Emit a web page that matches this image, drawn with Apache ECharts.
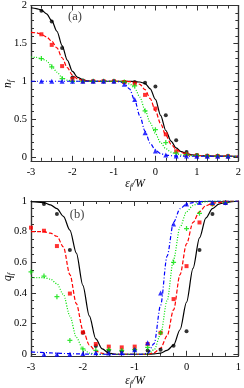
<!DOCTYPE html>
<html>
<head>
<meta charset="utf-8">
<script src="https://cdn.jsdelivr.net/npm/echarts@6/dist/echarts.min.js"></script>
<style>html,body{margin:0;padding:0;background:#fff}#c{width:244px;height:388px}</style>
</head>
<body>
<div id="c"></div>
<script>
// ---------- Panel (a): n_f ----------
const curveXA = [-3,-2.875,-2.75,-2.625,-2.5,-2.375,-2.25,-2.125,-2,-1.875,-1.75,-1.625,-1.5,-1.375,-1.25,-1.125,-1,-0.875,-0.75,-0.625,-0.5,-0.375,-0.25,-0.125,0,0.125,0.25,0.375,0.5,0.625,0.75,0.875,1,1.125,1.25,1.375,1.5,1.625,1.75,1.875,2];
const curveBlackA = [1.97,1.96,1.94,1.89,1.80,1.66,1.47,1.28,1.13,1.05,1.02,1.005,1.0,1.0,1.0,1.0,1.0,1.0,1.0,1.0,0.995,0.99,0.97,0.90,0.76,0.55,0.35,0.21,0.12,0.07,0.045,0.03,0.022,0.018,0.015,0.013,0.012,0.011,0.01,0.01,0.01];
const curveRedA   = [1.645,1.64,1.62,1.585,1.53,1.44,1.31,1.18,1.08,1.03,1.01,1.0,1.0,1.0,1.0,1.0,1.0,1.0,1.0,0.995,0.985,0.96,0.89,0.77,0.61,0.44,0.29,0.17,0.10,0.06,0.035,0.025,0.02,0.017,0.015,0.013,0.012,0.011,0.01,0.01,0.01];
const curveGreenA = [1.32,1.315,1.30,1.27,1.20,1.12,1.05,1.015,1.0,1.0,1.0,1.0,1.0,1.0,1.0,1.0,1.0,1.0,0.99,0.965,0.91,0.79,0.62,0.45,0.31,0.19,0.11,0.065,0.04,0.028,0.022,0.018,0.016,0.014,0.013,0.012,0.011,0.01,0.01,0.01,0.01];
const curveBlueA  = [1.0,1.0,1.0,1.0,1.0,1.0,1.0,1.0,1.0,1.0,1.0,1.0,1.0,1.0,1.0,1.0,1.0,0.995,0.97,0.90,0.75,0.54,0.34,0.18,0.09,0.045,0.025,0.017,0.013,0.012,0.011,0.01,0.01,0.01,0.01,0.01,0.01,0.01,0.01,0.01,0.01];

const ptXA = [-2.75,-2.5,-2.25,-2,-1.75,-1.5,-1.25,-1,-0.75,-0.5,-0.25,0,0.25,0.5,0.75,1,1.25,1.5,1.75];
const ptBlackA = [1.93,1.79,1.44,1.05,1.01,1.0,1.0,1.0,0.99,0.99,0.98,0.93,0.55,0.22,0.066,0.025,0.015,0.012,0.01];
const ptRedA   = [1.62,1.48,1.20,1.03,1.0,1.0,1.0,1.0,0.99,0.97,0.82,0.64,0.30,0.075,0.035,0.02,0.015,0.012,0.01];
const ptGreenA = [1.30,1.19,1.035,1.0,1.0,1.0,1.0,1.0,0.99,0.94,0.61,0.36,0.19,0.05,0.03,0.02,0.015,0.012,0.01];
const ptBlueA  = [1.0,1.0,1.0,1.0,1.0,1.0,1.0,1.0,0.96,0.76,0.32,0.08,0.025,0.015,0.012,0.01,0.01,0.01,0.01];

const yMajorA = [0,0.5,1,1.5,2];
const yMinorA = [0.1,0.2,0.3,0.4,0.6,0.7,0.8,0.9,1.1,1.2,1.3,1.4,1.6,1.7,1.8,1.9];

// ---------- Panel (b): q_f ----------
const curveXB = [-3,-2.875,-2.75,-2.625,-2.5,-2.375,-2.25,-2.125,-2,-1.875,-1.75,-1.625,-1.5,-1.375,-1.25,-1.125,-1,-0.875,-0.75,-0.625,-0.5,-0.375,-0.25,-0.125,0,0.125,0.25,0.375,0.5,0.625,0.75,0.875,1];
const curveBlackB = [0.995,0.993,0.99,0.975,0.95,0.90,0.81,0.66,0.45,0.25,0.10,0.035,0.008,0.0,0.0,0.0,0.0,0.0,0.0,0.002,0.008,0.025,0.06,0.16,0.34,0.56,0.76,0.89,0.95,0.98,0.99,0.995,1.0];
const curveRedB   = [0.80,0.80,0.80,0.79,0.77,0.70,0.52,0.33,0.16,0.06,0.02,0.006,0.0,0.0,0.0,0.0,0.0,0.0,0.0,0.01,0.04,0.12,0.29,0.52,0.72,0.86,0.93,0.97,0.985,0.99,0.995,1.0,1.0];
const curveGreenB = [0.50,0.50,0.50,0.49,0.46,0.39,0.25,0.11,0.035,0.008,0.0,0.0,0.0,0.0,0.0,0.0,0.0,0.0,0.0,0.03,0.13,0.35,0.62,0.83,0.93,0.97,0.99,0.995,1.0,1.0,1.0,1.0,1.0];
const curveBlueB  = [0.015,0.013,0.011,0.009,0.007,0.005,0.004,0.003,0.002,0.001,0.0,0.0,0.0,0.0,0.0,0.0,0.0,0.0,0.005,0.07,0.32,0.64,0.86,0.95,0.98,0.99,0.995,1.0,1.0,1.0,1.0,1.0,1.0];

const ptXB = [-3,-2.75,-2.5,-2.25,-2,-1.75,-1.5,-1.25,-1,-0.75,-0.5,-0.25,0,0.25,0.5,0.75];
const ptBlackB = [null,0.98,0.915,0.68,0.14,0.054,0.024,0.02,0.03,0.025,0.03,0.055,0.15,0.68,0.915,0.985];
const ptRedB   = [0.826,0.806,0.706,0.396,0.143,0.067,0.05,0.045,0.05,0.067,0.14,0.36,0.575,0.86,0.98,0.99];
const ptGreenB = [0.537,0.51,0.376,0.09,0.035,0.025,0.03,0.025,0.03,0.045,0.14,0.60,0.82,0.92,0.98,0.99];
const ptBlueB  = [null,0.0,0.0,0.0,0.005,0.01,0.008,0.01,0.03,0.075,0.40,0.85,0.98,0.99,0.99,0.99];

const yMajorB = [0,0.2,0.4,0.6,0.8,1];
const yMinorB = [0.05,0.1,0.15,0.25,0.3,0.35,0.45,0.5,0.55,0.65,0.7,0.75,0.85,0.9,0.95];

// ---------- build ----------
const FONT = 'Liberation Serif';
const AX = '#333';
const zip = (xs, ys) => xs.map((x, i) => [x, ys[i]]).filter(p => p[1] !== null);

function xAxes(grid, min, max) {
  const base = {
    type: 'value', gridIndex: grid, min: min, max: max, interval: 1,
    axisLine: { show: true, onZero: false, lineStyle: { color: AX, width: 1.2 } },
    axisTick: { show: true, inside: true, length: 5, lineStyle: { color: AX } },
    minorTick: { show: true, splitNumber: 4, length: 3, lineStyle: { color: AX } },
    splitLine: { show: false }
  };
  return [
    Object.assign({}, base, { position: 'bottom',
      axisLabel: { show: true, margin: 6, color: '#000', fontFamily: FONT, fontSize: 10.5,
        formatter: v => String(v) } }),
    Object.assign({}, base, { position: 'top', axisLabel: { show: false } })
  ];
}
function yAxes(grid, min, max, majors, minors) {
  const line = { show: true, onZero: false, lineStyle: { color: AX, width: 1.2 } };
  const mk = (pos, vals, len, lab) => ({
    type: 'value', gridIndex: grid, position: pos, min: min, max: max,
    axisLine: line, splitLine: { show: false },
    axisTick: { show: true, inside: true, length: len, customValues: vals, lineStyle: { color: AX } },
    axisLabel: lab ? { show: true, margin: 4, color: '#000', fontFamily: FONT, fontSize: 10.5,
      customValues: majors, formatter: v => String(+v.toFixed(2)) } : { show: false }
  });
  return [mk('left', majors, 5, true), mk('left', minors, 3, false),
          mk('right', majors, 5, false), mk('right', minors, 3, false)];
}

const styles = [
  { color: '#000000', type: 'solid', sym: 'circle', size: 4 },
  { color: '#ff0000', type: [4, 2], sym: 'rect', size: 4 },
  { color: '#00e000', type: [1, 1.6], sym: 'path://M3,0H5V3H8V5H5V8H3V5H0V3H3Z', size: 5 },
  { color: '#0000ff', type: [4, 2, 1, 2], sym: 'triangle', size: 5 }
];

function panelSeries(xi, yi, cx, curves, px, pts) {
  const s = [];
  curves.forEach((c, i) => s.push({
    type: 'line', xAxisIndex: xi, yAxisIndex: yi, data: zip(cx, c), showSymbol: false,
    smooth: 0.3, smoothMonotone: 'x', silent: true, z: 2,
    lineStyle: { color: styles[i].color, width: 1.2, type: styles[i].type }
  }));
  pts.forEach((p, i) => s.push({
    type: 'scatter', xAxisIndex: xi, yAxisIndex: yi, data: zip(px, p),
    symbol: styles[i].sym, symbolSize: styles[i].size, z: 3,
    itemStyle: { color: styles[i].color }
  }));
  return s;
}

const richI = { fontFamily: FONT, fontStyle: 'italic', fontSize: 11.5, fill: '#000' };
const richS = { fontFamily: FONT, fontStyle: 'italic', fontSize: 8, fill: '#000', padding: [5, 0, 0, 0] };

const chart = echarts.init(document.getElementById('c'), null, { renderer: 'canvas' });
chart.setOption({
  animation: false,
  backgroundColor: '#fff',
  grid: [
    { left: 31, top: 5, width: 207.5, height: 155.8 },
    { left: 31, top: 201, width: 207.5, height: 154.8 }
  ],
  xAxis: [].concat(xAxes(0, -3, 2), xAxes(1, -3, 1)),
  yAxis: [].concat(yAxes(0, -0.05, 2, yMajorA, yMinorA), yAxes(1, -0.01, 1, yMajorB, yMinorB)),
  series: [].concat(
    panelSeries(0, 0, curveXA, [curveBlackA, curveRedA, curveGreenA, curveBlueA], ptXA, [ptBlackA, ptRedA, ptGreenA, ptBlueA]),
    panelSeries(2, 4, curveXB, [curveBlackB, curveRedB, curveGreenB, curveBlueB], ptXB, [ptBlackB, ptRedB, ptGreenB, ptBlueB])
  ),
  graphic: [
    { type: 'text', x: 75, y: 17, style: { text: '(a)', align: 'center', verticalAlign: 'middle', font: '12.5px "Liberation Serif"', fill: '#444' } },
    { type: 'text', x: 77, y: 215, style: { text: '(b)', align: 'center', verticalAlign: 'middle', font: '12.5px "Liberation Serif"', fill: '#444' } },
    { type: 'text', x: 135, y: 184, style: { text: '{i|ε}{s|f}{i|/W}', align: 'center', verticalAlign: 'middle', rich: { i: richI, s: richS } } },
    { type: 'text', x: 135, y: 381, style: { text: '{i|ε}{s|f}{i|/W}', align: 'center', verticalAlign: 'middle', rich: { i: richI, s: richS } } },
    { type: 'text', x: 8, y: 84, rotation: Math.PI / 2, style: { text: '{i|n}{s|f}', align: 'center', verticalAlign: 'middle', rich: { i: richI, s: richS } } },
    { type: 'text', x: 8, y: 277, rotation: Math.PI / 2, style: { text: '{i|q}{s|f}', align: 'center', verticalAlign: 'middle', rich: { i: richI, s: richS } } }
  ]
});
</script>
</body>
</html>
